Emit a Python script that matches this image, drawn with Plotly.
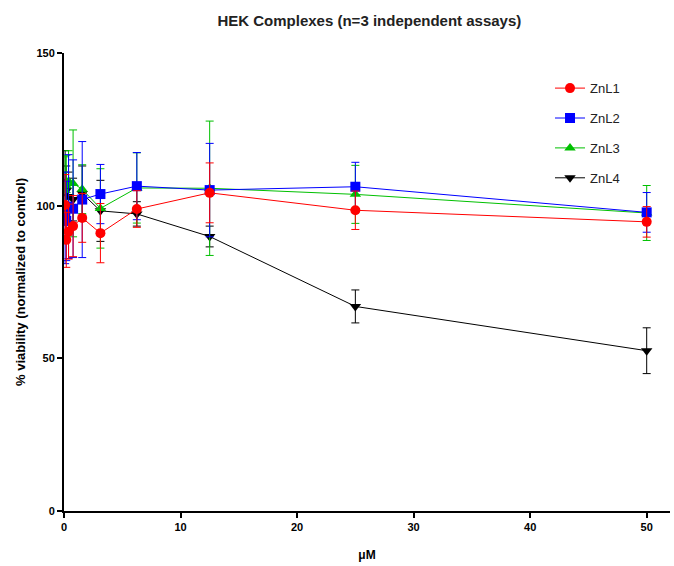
import plotly.graph_objects as go

# Concentration series (µM) and viability means / SD for each complex
conc = [0.098, 0.195, 0.39, 0.78, 1.5625, 3.125, 6.25, 12.5, 25, 50]

znl1 = [100.2, 88.8, 91.5, 93.3, 96.0, 91.0, 98.9, 104.2, 98.5, 94.7]
znl1_sd = [10, 9, 9, 10, 8, 9.7, 6, 9.8, 6.3, 5]

znl2 = [96.0, 95.0, 99.7, 99.0, 102.0, 103.8, 106.4, 105.1, 106.2, 97.8]
znl2_sd = [15, 13, 17, 16, 19, 9.7, 11, 15.3, 8, 6.5]

znl3 = [105.0, 106.5, 108.0, 107.3, 105.4, 99.1, 105.8, 105.7, 103.7, 97.6]
znl3_sd = [11, 10, 10, 17.5, 8, 13, 11.5, 22, 9.5, 9]

znl4 = [108.0, 105.0, 103.0, 102.0, 104.0, 98.3, 97.3, 89.9, 67.0, 52.5]
znl4_sd = [10, 8, 8, 7, 9, 10, 4, 3.4, 5.4, 7.5]

names = ["ZnL1", "ZnL2", "ZnL3", "ZnL4"]
colors = ["#FF0000", "#0000FF", "#00C000", "#000000"]
symbols = ["circle", "square", "triangle-up", "triangle-down"]
means = [znl1, znl2, znl3, znl4]
sds = [znl1_sd, znl2_sd, znl3_sd, znl4_sd]

# First series is painted last so it sits on top; legendrank keeps ZnL1 first
fig = go.Figure()
series = list(zip(range(len(names)), names, colors, symbols, means, sds))
for rank, name, col, sym, y, sd in reversed(series):
    fig.add_trace(go.Scatter(
        x=conc, y=y, name=name, mode="lines+markers",
        line=dict(color=col, width=1),
        marker=dict(color=col, symbol=sym, size=10),
        error_y=dict(type="data", array=sd, visible=True,
                     color=col, thickness=1, width=4),
        legendgroup=name, legendrank=1000 + rank,
    ))

font = "Liberation Sans, Arial, sans-serif"
fig.update_layout(
    width=674, height=566,
    margin=dict(l=64, r=4, t=53, b=55),
    paper_bgcolor="white", plot_bgcolor="white",
    title=dict(text="<b>HEK Complexes (n=3 independent assays)</b>",
               x=0.548, xanchor="center", y=0.964, yanchor="middle",
               font=dict(family=font, size=15, color="#222")),
    font=dict(family=font, color="black"),
    showlegend=True,
    legend=dict(x=0.802, y=0.956, xanchor="left", yanchor="top",
                traceorder="grouped",
                bgcolor="rgba(0,0,0,0)", tracegroupgap=10,
                font=dict(family=font, size=13, color="#222")),
    xaxis=dict(range=[0, 52], tickvals=[0, 10, 20, 30, 40, 50],
               ticktext=["<b>%d</b>" % v for v in [0, 10, 20, 30, 40, 50]],
               ticks="outside", ticklen=5, tickwidth=2, tickcolor="black",
               showline=True, linecolor="black", linewidth=2,
               showgrid=False, zeroline=False,
               tickfont=dict(family=font, size=11, color="black"),
               title=dict(text="<b>μM</b>", standoff=18,
                          font=dict(family=font, size=12, color="black"))),
    yaxis=dict(range=[0, 150], tickvals=[0, 50, 100, 150],
               ticktext=["<b>0</b>", "<b>50</b>", "<b>100</b>", "<b>150</b>"],
               ticks="outside", ticklen=5, tickwidth=2, tickcolor="black",
               showline=True, linecolor="black", linewidth=2,
               showgrid=False, zeroline=False,
               tickfont=dict(family=font, size=11, color="black"),
               title=dict(text="<b>% viability (normalized to control)</b>",
                          standoff=8,
                          font=dict(family=font, size=13, color="black"))),
)

fig.write_html("out.html")
